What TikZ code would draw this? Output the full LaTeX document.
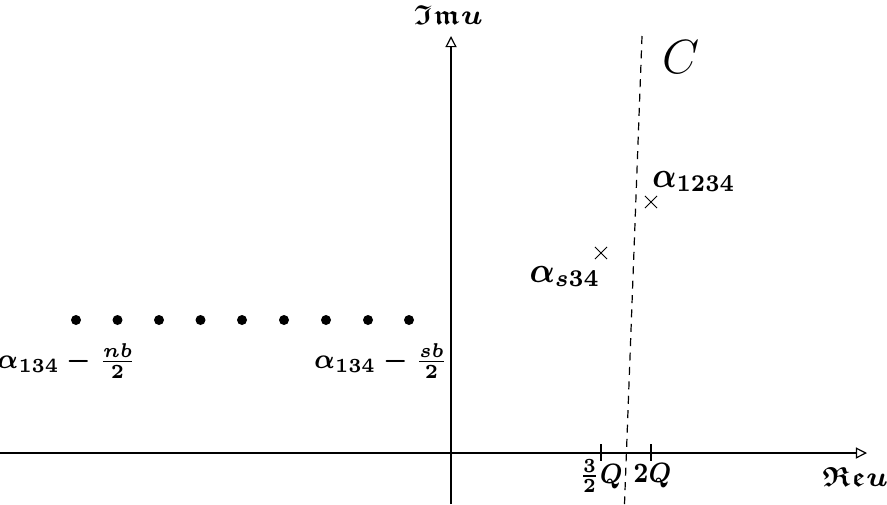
\documentclass[tikz,border=0pt]{standalone}
\usepackage{amsmath,amssymb}
\usetikzlibrary{arrows.meta,shapes.misc}
\newcommand{\lbxs}[2]{\scalebox{#1}[1]{#2}}
\begin{document}
\begin{tikzpicture}[x=0.25pt,y=-0.25pt,
  axis/.style={line width=0.3pt,-{Triangle[open,length=2.8pt,width=2.8pt]}},
  pole/.style={circle,fill,inner sep=0pt,minimum size=2.5pt},
  cross/.style={cross out,draw,inner sep=0pt,minimum size=2.8pt,line width=0.25pt},
  lab/.style={inner sep=0pt,font=\fontsize{#1}{#1}\selectfont\boldmath},
  lab/.default=8.2,
  tick/.style={line width=0.3pt}]
\useasboundingbox (0,0) rectangle (887,504);
% axes
\coordinate (xs) at (0,453);
\coordinate (xe) at (867,453);
\coordinate (ys) at (451,504);
\coordinate (ye) at (451,36);
\draw[axis] (xs) -- (xe);
\draw[axis] (ys) -- (ye);
\node[lab=6.9] (im) at (448,15) {$\mathfrak{Im}u$};
\node[lab=6.9] (re) at (855,477) {$\mathfrak{Re}u$};
% contour
\coordinate (c1) at (642,36);
\coordinate (c2) at (624.5,504);
\draw[dashed,line width=0.3pt,dash pattern=on 2pt off 1.6pt] (c1) -- (c2);
\node[inner sep=0pt,font=\fontsize{12}{12}\selectfont] (C) at (681,57) {$C$};
% ticks
\coordinate (t1a) at (601,444); \coordinate (t1b) at (601,461);
\coordinate (t2a) at (651,444); \coordinate (t2b) at (651,461);
\draw[tick] (t1a) -- (t1b);
\draw[tick] (t2a) -- (t2b);
\node[lab=7.4] (l1) at (601,476) {\lbxs{0.84}{$\tfrac{3}{2}Q$}};
\node[lab=7.4] (l2) at (652.5,476) {\lbxs{0.84}{$2Q$}};
% crosses
\node[cross] (p1) at (601,253) {};
\node[cross] (p2) at (651,202) {};
\node[lab=8.6] (a1) at (565,276) {\lbxs{0.9}{$\alpha_{s34}$}};
\node[lab=8.6] (a2) at (694,181) {\lbxs{0.86}{$\alpha_{1234}$}};
% dots
\foreach \i/\x in {1/76,2/117.5,3/159,4/200.5,5/242,6/284,7/326,8/368,9/409}
  \node[pole] (d\i) at (\x,320) {};
\node[lab=7.3] (n1) at (67,361) {\lbxs{0.87}{$\alpha_{134}-\frac{nb}{2}$}};
\node[lab=7.3] (n2) at (381,361) {\lbxs{0.87}{$\alpha_{134}-\frac{sb}{2}$}};
\end{tikzpicture}
\end{document}
